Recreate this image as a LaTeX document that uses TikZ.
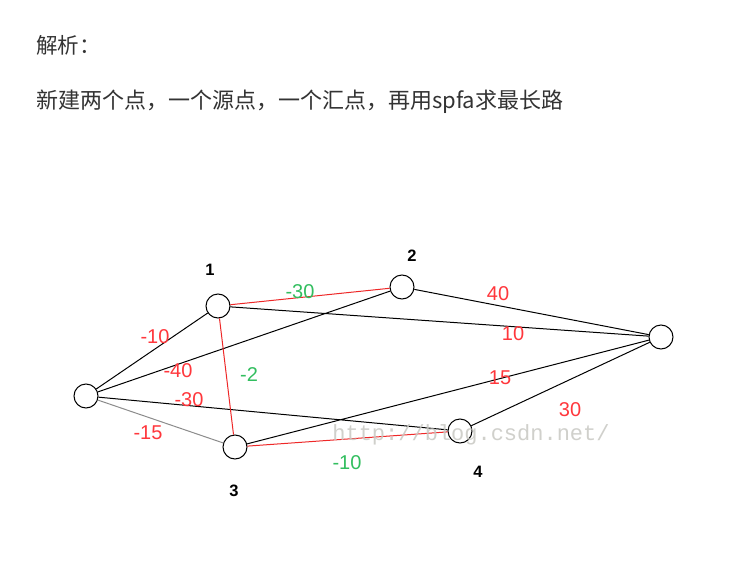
\documentclass[tikz,border=0pt]{standalone}
\usepackage{fontspec}
\setsansfont{Liberation Sans}
\setmonofont{Liberation Mono}
\newfontfamily\cjk{Noto Sans CJK SC}
\usetikzlibrary{positioning}

\definecolor{txtgray}{RGB}{51,51,51}
\definecolor{edgered}{RGB}{238,40,40}
\definecolor{lblred}{RGB}{255,55,60}
\definecolor{lblgreen}{RGB}{50,190,95}
\definecolor{lightedge}{RGB}{140,140,140}
\definecolor{wmgray}{RGB}{200,200,195}

\tikzset{
    vert/.style={circle, draw, line width=1pt, minimum size=24pt, inner sep=0pt, fill=white},
    vlabel/.style={font=\sffamily\bfseries\fontsize{16.5}{16.5}\selectfont},
    wlabel/.style={font=\sffamily\fontsize{20}{20}\selectfont, inner sep=0pt},
    redlbl/.style={wlabel, text=lblred},
    greenlbl/.style={wlabel, text=lblgreen},
    blk/.style={line width=1pt, black},
    hot/.style={line width=1pt, edgered},
}

\begin{document}
\begin{tikzpicture}[x=1pt,y=-1pt]
        \useasboundingbox[fill=white] (0,0) rectangle (731,570);

        % text above the graph
        \node at (36,45) [anchor=west, inner sep=0pt, text=txtgray, font=\cjk\fontsize{21.5}{24}\selectfont] (title) {解析：};
        \node at (36,102) [anchor=west, inner sep=0pt, text=txtgray, font=\cjk\fontsize{22}{26}\selectfont] (note) {新建两个点，一个源点，一个汇点，再用spfa求最长路};

        % edges first, vertices drawn over them
        \coordinate (s_c) at (86,396);
        \coordinate (n1_c) at (218,306);
        \coordinate (n2_c) at (402,287);
        \coordinate (n3_c) at (235,447);
        \coordinate (n4_c) at (460,431);
        \coordinate (t_c) at (661,337);

        \node at (s_c) [vert] (s) {};
        \node at (n1_c) [vert] (n1) {};
        \node at (n2_c) [vert] (n2) {};
        \node at (n3_c) [vert] (n3) {};
        \node at (n4_c) [vert] (n4) {};
        \node at (t_c) [vert] (t) {};

        \draw[blk]  (s) -- (n1)
                    (s) -- (n2)
                    (s) -- (n4)
                    (n1) -- (t)
                    (n2) -- (t)
                    (n3) -- (t)
                    (n4) -- (t);
        \draw[line width=1pt, lightedge] (s) -- (n3);
        \draw[hot]  (n1) -- (n2)
                    (n1) -- (n3)
                    (n3) -- (n4);

        % watermark
        \node at (471,435) [font=\ttfamily\fontsize{22}{22}\selectfont, text=wmgray, opacity=0.85, inner sep=0pt] (mark) {http://blog.csdn.net/};

        % vertex numbers
        \node at (210,270) [vlabel] (l1) {1};
        \node at (412,256) [vlabel] (l2) {2};
        \node at (234,491) [vlabel] (l3) {3};
        \node at (478,472) [vlabel] (l4) {4};

        % weights
        \node at (155,337) [redlbl] (w_s1) {-10};
        \node at (178,371) [redlbl] (w_s2) {-40};
        \node at (189,400) [redlbl] (w_s4) {-30};
        \node at (148,433) [redlbl] (w_s3) {-15};
        \node at (300,292) [greenlbl] (w_12) {-30};
        \node at (249,375) [greenlbl] (w_13) {-2};
        \node at (347,463) [greenlbl] (w_34) {-10};
        \node at (498,294) [redlbl] (w_2t) {40};
        \node at (513,334) [redlbl] (w_1t) {10};
        \node at (500,378) [redlbl] (w_3t) {15};
        \node at (570,410) [redlbl] (w_4t) {30};

    \end{tikzpicture}
\end{document}
